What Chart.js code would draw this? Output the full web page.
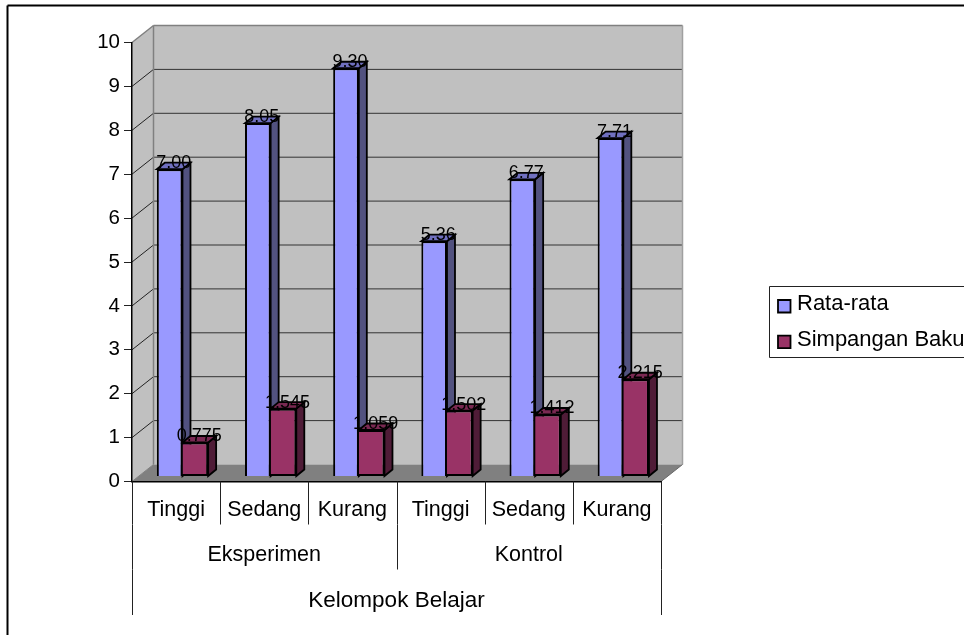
<!DOCTYPE html>
<html>
<head>
<meta charset="utf-8">
<title>Kelompok Belajar</title>
<script src="https://cdn.jsdelivr.net/npm/chart.js@4/dist/chart.umd.min.js"></script>
<style>
    html, body { margin: 0; padding: 0; background: #fff; overflow: hidden; }
    canvas { display: block; }
</style>
</head>
<body>
<canvas id="chart" width="964" height="635"></canvas>
<script>
// Values per category
const categories = ["Tinggi", "Sedang", "Kurang", "Tinggi", "Sedang", "Kurang"];
const groups = ["Eksperimen", "Kontrol"];
const outerGroup = ["Kelompok Belajar"];
const rataRata = [7.00, 8.05, 9.30, 5.36, 6.77, 7.71];
const simpanganBaku = [0.775, 1.545, 1.059, 1.502, 1.412, 2.215];

Chart.defaults.font.family = "'Liberation Sans', Arial, sans-serif";
Chart.defaults.color = "#000";

// 3D look: wall depth and how far the bars sit in front of the wall
const wallDepth = { x: 21.5, y: -17 };
const barShift = { x: 6.4, y: -5 };
const barDepth = { x: 8, y: -6.5 };

const poly = (ctx, pts, fill, stroke, lw) => {
    ctx.beginPath();
    pts.forEach((p, i) => i ? ctx.lineTo(p[0], p[1]) : ctx.moveTo(p[0], p[1]));
    ctx.closePath();
    if (fill) { ctx.fillStyle = fill; ctx.fill(); }
    if (stroke) { ctx.strokeStyle = stroke; ctx.lineWidth = lw; ctx.stroke(); }
};

const line = (ctx, x1, y1, x2, y2, color, lw) => {
    ctx.beginPath();
    ctx.moveTo(x1, y1);
    ctx.lineTo(x2, y2);
    ctx.strokeStyle = color;
    ctx.lineWidth = lw;
    ctx.stroke();
};

// Frame, back wall, side wall, floor and their gridlines
const wallPlugin = {
    id: "wall",
    beforeDraw(chart) {
        const { ctx, scales: { x, y } } = chart;
        const dx = wallDepth.x, dy = wallDepth.y;
        const top = y.getPixelForValue(10), bottom = y.getPixelForValue(0);
        ctx.save();
        line(ctx, 7.5, 5.5, 964, 5.5, "#000", 2);
        line(ctx, 7.5, 5.5, 7.5, 635, "#000", 2);

        poly(ctx, [[x.left, top], [x.left + dx, top + dy], [x.left + dx, bottom + dy], [x.left, bottom]], "#c0c0c0");
        poly(ctx, [[x.left + dx, top + dy], [x.right + dx, top + dy], [x.right + dx, bottom + dy], [x.left + dx, bottom + dy]], "#c0c0c0");
        poly(ctx, [[x.left, bottom], [x.left + dx, bottom + dy], [x.right + dx, bottom + dy], [x.right, bottom]], "#808080");

        y.ticks.forEach(t => {
            const py = y.getPixelForValue(t.value);
            if (t.value === 0 || t.value === 10) return;
            line(ctx, x.left, py, x.left + dx, py + dy, "#222", 1);
            line(ctx, x.left + dx, py + dy, x.right + dx, py + dy, "#333", 1);
        });

        line(ctx, x.left, top, x.left + dx, top + dy, "#808080", 1.5);
        line(ctx, x.left + dx, top + dy, x.right + dx, top + dy, "#808080", 1.5);
        line(ctx, x.left + dx, top + dy, x.left + dx, bottom + dy, "#808080", 1.5);
        line(ctx, x.right + dx, top + dy, x.right + dx, bottom + dy, "#a0a0a0", 1.5);
        line(ctx, x.left, bottom, x.left + dx, bottom + dy, "#808080", 1);
        line(ctx, x.right, bottom, x.right + dx, bottom + dy, "#666", 1);
        ctx.restore();
    },
    // Bars stand a little behind the front edge of the floor.
    // Side and top faces go first, series by series, so the front faces cover them.
    beforeDatasetsDraw(chart) {
        const ctx = chart.ctx;
        ctx.save();
        ctx.translate(barShift.x, barShift.y);
        chart.data.datasets.forEach((ds, i) => {
            chart.getDatasetMeta(i).data.forEach(bar => {
                const l = bar.x - bar.width / 2, r = bar.x + bar.width / 2;
                const dx = barDepth.x, dy = barDepth.y;
                poly(ctx, [[r, bar.y], [r + dx, bar.y + dy], [r + dx, bar.base + dy], [r, bar.base]], ds.sideColor, "#000", 1.8);
                poly(ctx, [[l, bar.y], [l + dx, bar.y + dy], [r + dx, bar.y + dy], [r, bar.y]], ds.topColor, "#000", 1.8);
            });
        });
    },
    afterDatasetsDraw(chart) {
        const ctx = chart.ctx;
        ctx.restore();

        // Value labels
        ctx.save();
        ctx.font = "18px 'Liberation Sans', Arial, sans-serif";
        ctx.fillStyle = "#000";
        ctx.textAlign = "center";
        ctx.textBaseline = "middle";
        chart.data.datasets.forEach((ds, i) => {
            chart.getDatasetMeta(i).data.forEach((bar, j) => {
                ctx.fillText(ds.data[j].toFixed(ds.decimals), bar.x + barShift.x + 4, bar.y + barShift.y - 6);
            });
        });
        ctx.restore();
    },
    // Separators of the three category rows, and the legend
    afterDraw(chart) {
        const { ctx, scales: { x, x2, x3 } } = chart;
        ctx.save();
        [x, x2, x3].forEach(s => {
            const n = s.getLabels().length;
            for (let i = 0; i <= n; i++) {
                const px = Math.round(s.left + s.width * i / n) + 0.5;
                line(ctx, px, s.top, px, s.bottom, "#222", 1);
            }
        });

        poly(ctx, [[769.5, 286.5], [970, 286.5], [970, 357.5], [769.5, 357.5]], "#fff", "#222", 1);
        ctx.font = "22px 'Liberation Sans', Arial, sans-serif";
        ctx.textBaseline = "middle";
        chart.data.datasets.forEach((ds, i) => {
            const top = 300 + i * 35.7;
            poly(ctx, [[778, top], [790.5, top], [790.5, top + 12.5], [778, top + 12.5]], ds.backgroundColor, "#000", 1.8);
            ctx.fillStyle = "#000";
            ctx.fillText(ds.label, 797, top + 4);
        });
        ctx.restore();
    }
};

new Chart(document.getElementById("chart").getContext("2d"), {
    type: "bar",
    data: {
        labels: categories,
        datasets: [
            {
                label: "Rata-rata",
                data: rataRata,
                decimals: 2,
                clip: false,
                backgroundColor: "#9999ff",
                sideColor: "#52527f",
                topColor: "#7070c0",
                borderColor: "#000",
                borderWidth: 2,
                categoryPercentage: 0.582,
                barPercentage: 1
            },
            {
                label: "Simpangan Baku",
                data: simpanganBaku,
                decimals: 3,
                clip: false,
                backgroundColor: "#993366",
                sideColor: "#4f1c37",
                topColor: "#7a2952",
                borderColor: "#000",
                borderWidth: 2,
                borderSkipped: "left",
                categoryPercentage: 0.582,
                barPercentage: 1
            }
        ]
    },
    options: {
        responsive: false,
        animation: { duration: 0 }, // Disable animations
        layout: { padding: { left: 0, top: 42.5, right: 303, bottom: 20 } },
        plugins: {
            legend: { display: false },
            tooltip: { enabled: false }
        },
        scales: {
            y: {
                min: 0,
                max: 10,
                ticks: { stepSize: 1, padding: 4, font: { size: 20.5 } },
                grid: { drawOnChartArea: false, color: "#222", tickLength: 8 },
                border: { color: "#000", width: 1.5 },
                afterFit: s => { s.width = 132; }
            },
            x: {
                weight: 1,
                ticks: { padding: 8, font: { size: 21.5 }, maxRotation: 0, autoSkip: false },
                grid: { display: false },
                border: { color: "#000", width: 1.5 },
                afterFit: s => { s.height = 43; }
            },
            x2: {
                type: "category",
                position: "bottom",
                labels: groups,
                offset: true,
                weight: 2,
                ticks: { padding: 10, font: { size: 21.5 }, maxRotation: 0 },
                grid: { display: false },
                border: { display: false },
                afterFit: s => { s.height = 45; }
            },
            x3: {
                type: "category",
                position: "bottom",
                labels: outerGroup,
                offset: true,
                weight: 3,
                ticks: { padding: 10, font: { size: 22.5 }, maxRotation: 0 },
                grid: { display: false },
                border: { display: false },
                afterFit: s => { s.height = 45.5; }
            }
        }
    },
    plugins: [wallPlugin]
});
</script>
</body>
</html>
